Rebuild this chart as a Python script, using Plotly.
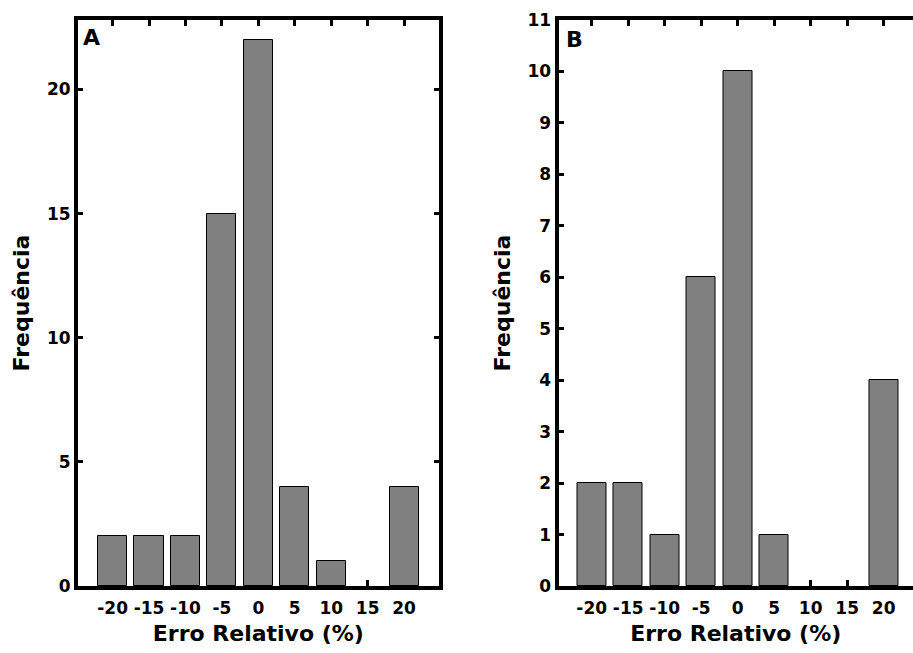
import plotly.graph_objects as go

bins = [-20, -15, -10, -5, 0, 5, 10, 15, 20]
tick_labels = ["-20", "-15", "-10", "-5", "0", "5", "10", "15", "20"]
freq_a = [2, 2, 2, 15, 22, 4, 1, 0, 4]
freq_b = [2, 2, 1, 6, 10, 1, 0, 0, 4]

FONT = "DejaVu Sans"
W, H = 913, 653
ML, MR, MT, MB = 78, 0, 20, 67
PW = W - ML - MR

def dx(px):
    return (px - ML) / PW

fig = go.Figure()
for vals, xa, ya in [(freq_a, "x", "y"), (freq_b, "x2", "y2")]:
    fig.add_trace(go.Bar(
        x=bins, y=vals, xaxis=xa, yaxis=ya, width=4, showlegend=False,
        marker=dict(color="#808080", line=dict(color="black", width=[1 if v > 0 else 0 for v in vals])),
    ))

tickfont = dict(family=FONT, size=17, color="black", weight="bold")
titlefont = dict(family=FONT, size=22, color="black", weight="bold")

common_x = dict(tickmode="array", tickvals=bins, ticktext=tick_labels, showgrid=False, zeroline=False,
                showline=True, linecolor="black", linewidth=4, ticks="inside", ticklen=6, tickwidth=3,
                tickcolor="black", tickfont=tickfont, layer="below traces", automargin=False,
                ticklabelstandoff=4,
                title=dict(text="Erro Relativo (%)", font=titlefont, standoff=9))
common_y = dict(showgrid=False, zeroline=False, showline=True, linecolor="black", linewidth=4,
                ticks="inside", ticklen=5, tickwidth=3, tickcolor="black", tickfont=tickfont,
                layer="below traces", automargin=False,
                title=dict(text="Frequência", font=titlefont, standoff=12))

fig.update_layout(
    width=W, height=H,
    margin=dict(l=ML, r=MR, t=MT, b=MB),
    paper_bgcolor="white", plot_bgcolor="white",
    bargap=0,
    xaxis=dict(domain=[0, dx(438.7)], range=[-24.75, 24.75], mirror="ticks", anchor="y", **common_x),
    yaxis=dict(domain=[0, 1], range=[0, 22.8], tickvals=[0, 5, 10, 15, 20], mirror="ticks", anchor="x", **common_y),
    xaxis2=dict(domain=[dx(558.5), 1], range=[-24.55, 24.02], mirror="ticks", anchor="y2", **common_x),
    yaxis2=dict(domain=[0, 1], range=[0, 11], tickvals=list(range(0, 12)), mirror=False, anchor="x2", **common_y),
    annotations=[
        dict(text="A", xref="paper", yref="paper", x=dx(81), y=1 - (37 - MT) / (H - MT - MB),
             xanchor="left", yanchor="middle", showarrow=False, font=titlefont),
        dict(text="B", xref="paper", yref="paper", x=dx(564), y=1 - (39 - MT) / (H - MT - MB),
             xanchor="left", yanchor="middle", showarrow=False, font=titlefont),
    ],
)

fig.write_html("out.html")
